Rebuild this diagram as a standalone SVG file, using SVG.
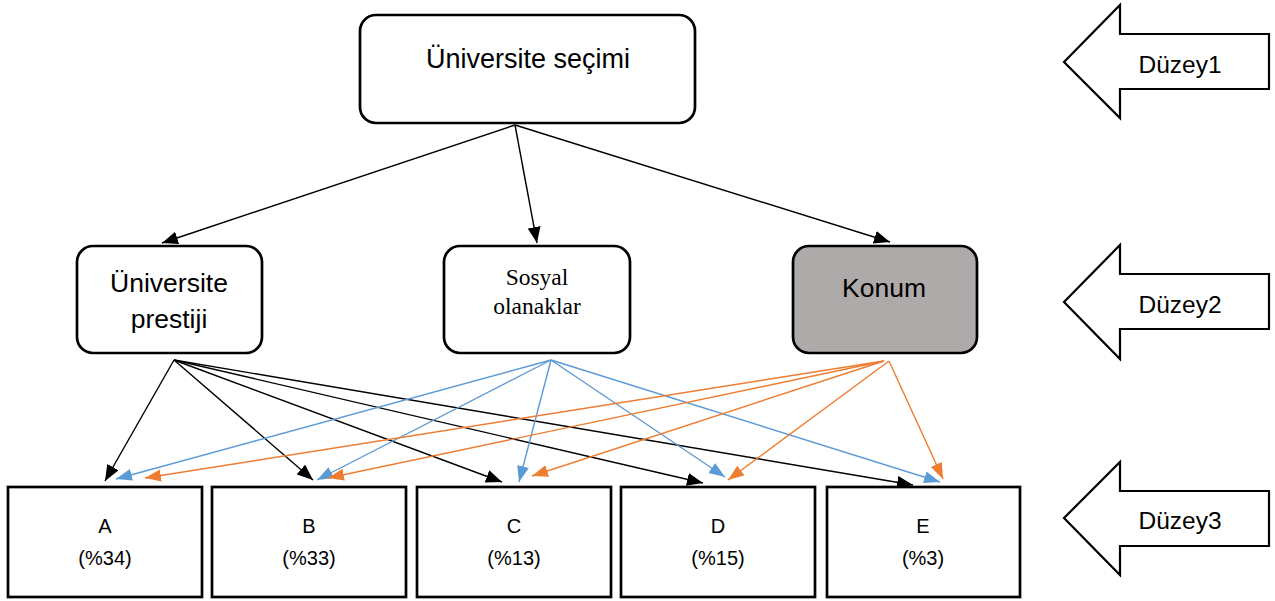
<svg xmlns="http://www.w3.org/2000/svg" width="1275" height="601" viewBox="0 0 1275 601">
<defs>
<style>
.node{fill:#fff;stroke:#000;stroke-width:2.7}
.t{font-family:"Liberation Sans",Arial,sans-serif;fill:#000;text-anchor:middle}
.s{font-family:"Liberation Serif","Times New Roman",serif;fill:#000;text-anchor:middle}
.k{stroke:#000;stroke-width:1.4;fill:none}
.b{stroke:#5B9BD5;stroke-width:1.4;fill:none}
.o{stroke:#ED7D31;stroke-width:1.4;fill:none}
.lvl{fill:#fff;stroke:#000;stroke-width:2.2}
</style>
<marker id="mk" markerUnits="userSpaceOnUse" markerWidth="17" markerHeight="13" refX="16" refY="6.5" orient="auto"><path d="M0,0 L16,6.5 L0,13 z" fill="#000"/></marker>
<marker id="mb" markerUnits="userSpaceOnUse" markerWidth="17" markerHeight="13" refX="16" refY="6" orient="auto"><path d="M0,0 L16,6 L0,12 z" fill="#5B9BD5"/></marker>
<marker id="mo" markerUnits="userSpaceOnUse" markerWidth="17" markerHeight="13" refX="16" refY="6" orient="auto"><path d="M0,0 L16,6 L0,12 z" fill="#ED7D31"/></marker>
</defs>
<rect width="1275" height="601" fill="#fff"/>
<g id="connectors">
<line class="k" x1="515" y1="125" x2="162" y2="243" marker-end="url(#mk)"/>
<line class="k" x1="515" y1="125" x2="537" y2="243" marker-end="url(#mk)"/>
<line class="k" x1="515" y1="125" x2="890" y2="242" marker-end="url(#mk)"/>
<line class="k" x1="174" y1="360" x2="105" y2="481" marker-end="url(#mk)"/>
<line class="k" x1="174" y1="360" x2="313" y2="480" marker-end="url(#mk)"/>
<line class="k" x1="174" y1="360" x2="502" y2="482" marker-end="url(#mk)"/>
<line class="k" x1="174" y1="360" x2="703" y2="483" marker-end="url(#mk)"/>
<line class="k" x1="174" y1="360" x2="913" y2="485" marker-end="url(#mk)"/>
<line class="b" x1="551" y1="360" x2="116" y2="479" marker-end="url(#mb)"/>
<line class="b" x1="551" y1="360" x2="317" y2="480" marker-end="url(#mb)"/>
<line class="b" x1="551" y1="360" x2="519" y2="482" marker-end="url(#mb)"/>
<line class="b" x1="551" y1="360" x2="725" y2="477" marker-end="url(#mb)"/>
<line class="b" x1="551" y1="360" x2="940" y2="482" marker-end="url(#mb)"/>
<line class="o" x1="884" y1="361" x2="145" y2="478" marker-end="url(#mo)"/>
<line class="o" x1="884" y1="361" x2="328" y2="478" marker-end="url(#mo)"/>
<line class="o" x1="884" y1="361" x2="532" y2="476" marker-end="url(#mo)"/>
<line class="o" x1="889" y1="361" x2="728" y2="480" marker-end="url(#mo)"/>
<line class="o" x1="889" y1="361" x2="943" y2="479" marker-end="url(#mo)"/>
</g>
<g id="n-top"><rect class="node" x="360" y="15" width="335" height="108" rx="16"/><text class="t" x="528" y="68" font-size="27">Üniversite seçimi</text></g>
<g id="n-prestij"><rect class="node" x="77" y="246" width="185" height="107" rx="16"/><text class="t" x="169" y="292" font-size="26.5">Üniversite</text><text class="t" x="169" y="328" font-size="26.5">prestiji</text></g>
<g id="n-sosyal"><rect class="node" x="444" y="246" width="186" height="107" rx="16"/><text class="s" x="537" y="285" font-size="23.5">Sosyal</text><text class="s" x="537" y="314" font-size="23.5">olanaklar</text></g>
<g id="n-konum"><rect class="node" x="793" y="246" width="184" height="107" rx="16" style="fill:#AEAAAA"/><text class="t" x="884" y="297" font-size="26.5">Konum</text></g>
<g id="n-a"><rect class="node" x="8" y="487" width="194" height="110"/><text class="t" x="105" y="533" font-size="20">A</text><text class="t" x="105" y="565" font-size="20">(%34)</text></g>
<g id="n-b"><rect class="node" x="212" y="487" width="194" height="110"/><text class="t" x="309" y="533" font-size="20">B</text><text class="t" x="309" y="565" font-size="20">(%33)</text></g>
<g id="n-c"><rect class="node" x="417" y="487" width="194" height="110"/><text class="t" x="514" y="533" font-size="20">C</text><text class="t" x="514" y="565" font-size="20">(%13)</text></g>
<g id="n-d"><rect class="node" x="621" y="487" width="194" height="110"/><text class="t" x="718" y="533" font-size="20">D</text><text class="t" x="718" y="565" font-size="20">(%15)</text></g>
<g id="n-e"><rect class="node" x="827" y="487" width="193" height="110"/><text class="t" x="923" y="533" font-size="20">E</text><text class="t" x="923" y="565" font-size="20">(%3)</text></g>
<g id="l1"><polygon class="lvl" points="1064,62 1120,5 1120,34 1269,34 1269,89 1120,89 1120,118"/><text class="t" x="1180" y="73" font-size="24.5">Düzey1</text></g>
<g id="l2"><polygon class="lvl" points="1064,302 1120,245 1120,274 1269,274 1269,329 1120,329 1120,359"/><text class="t" x="1180" y="313" font-size="24.5">Düzey2</text></g>
<g id="l3"><polygon class="lvl" points="1064,518 1120,462 1120,491 1269,491 1269,546 1120,546 1120,575"/><text class="t" x="1180" y="529" font-size="24.5">Düzey3</text></g>
</svg>
